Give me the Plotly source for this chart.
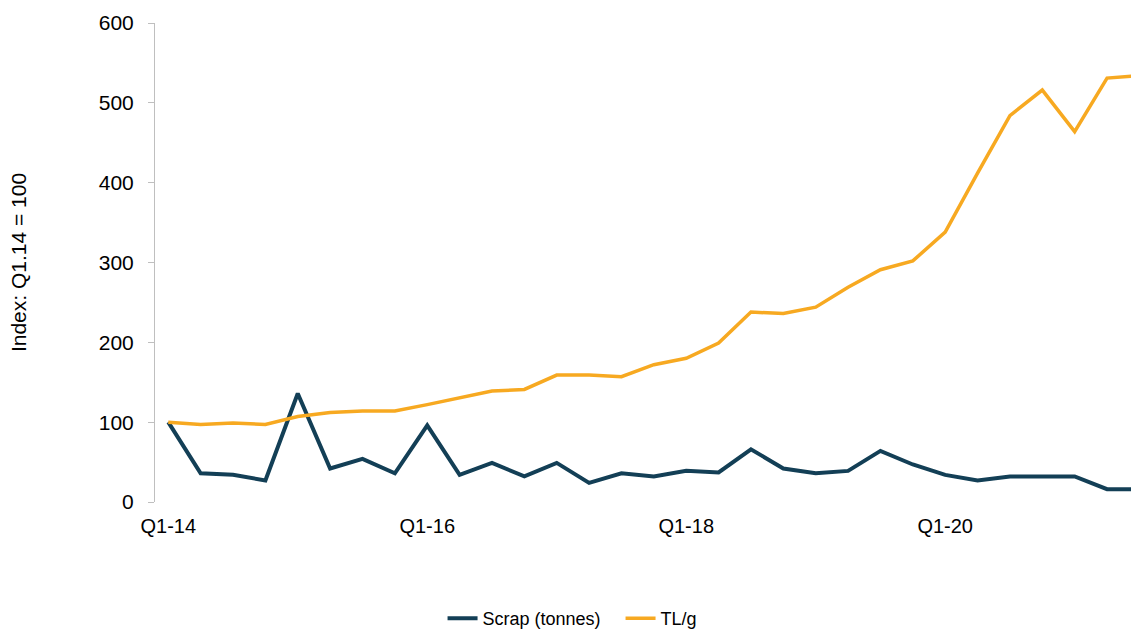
import plotly.graph_objects as go

quarters = [f"Q{q}-{y}" for y in range(14, 22) for q in range(1, 5)][:31]
scrap_tonnes = [100, 36, 34, 27, 136, 42, 54, 36, 96, 34, 49, 32, 49, 24, 36, 32,
                39, 37, 66, 42, 36, 39, 64, 47, 34, 27, 32, 32, 32, 16, 16]
tl_per_g = [100, 97, 99, 97, 107, 112, 114, 114, 122, 130, 139, 141, 159, 159, 157, 172,
            180, 199, 238, 236, 244, 269, 291, 302, 338, 412, 484, 516, 464, 531, 534]
tick_labels = ["Q1-14", "Q1-16", "Q1-18", "Q1-20"]

FONT = "Liberation Sans"

fig = go.Figure()
fig.add_trace(go.Scatter(x=quarters, y=scrap_tonnes, mode="lines", name="Scrap (tonnes)",
                         line=dict(color="#133F56", width=4)))
fig.add_trace(go.Scatter(x=quarters, y=tl_per_g, mode="lines", name="TL/g",
                         line=dict(color="#F7A921", width=3.5)))

fig.update_layout(
    width=1131, height=637,
    margin=dict(l=155, r=0, t=23, b=134),
    paper_bgcolor="white", plot_bgcolor="white",
    font=dict(family=FONT, size=19, color="#000000"),
    showlegend=True,
    legend=dict(orientation="h", x=0.477, xanchor="center", y=-0.242, yanchor="middle",
                entrywidth=133, entrywidthmode="pixels",
                font=dict(family=FONT, size=18, color="#000000"), traceorder="normal"),
)
fig.update_xaxes(type="category", categoryorder="array", categoryarray=quarters,
                 range=[-0.41, 29.74], tickmode="array", tickvals=tick_labels,
                 ticktext=tick_labels, showline=False, showgrid=False, zeroline=False,
                 ticks="", ticklabelstandoff=10, tickfont=dict(family=FONT, size=20))
fig.update_yaxes(range=[0, 600], dtick=100, showline=True, linecolor="#BFBFBF", linewidth=1,
                 ticks="outside", ticklen=6, tickcolor="#BFBFBF", showgrid=False, zeroline=False,
                 ticklabelstandoff=10, tickfont=dict(family=FONT, size=21),
                 title=dict(text="Index: Q1.14 = 100", font=dict(family=FONT, size=21),
                            standoff=66))

fig.write_html("out.html")
